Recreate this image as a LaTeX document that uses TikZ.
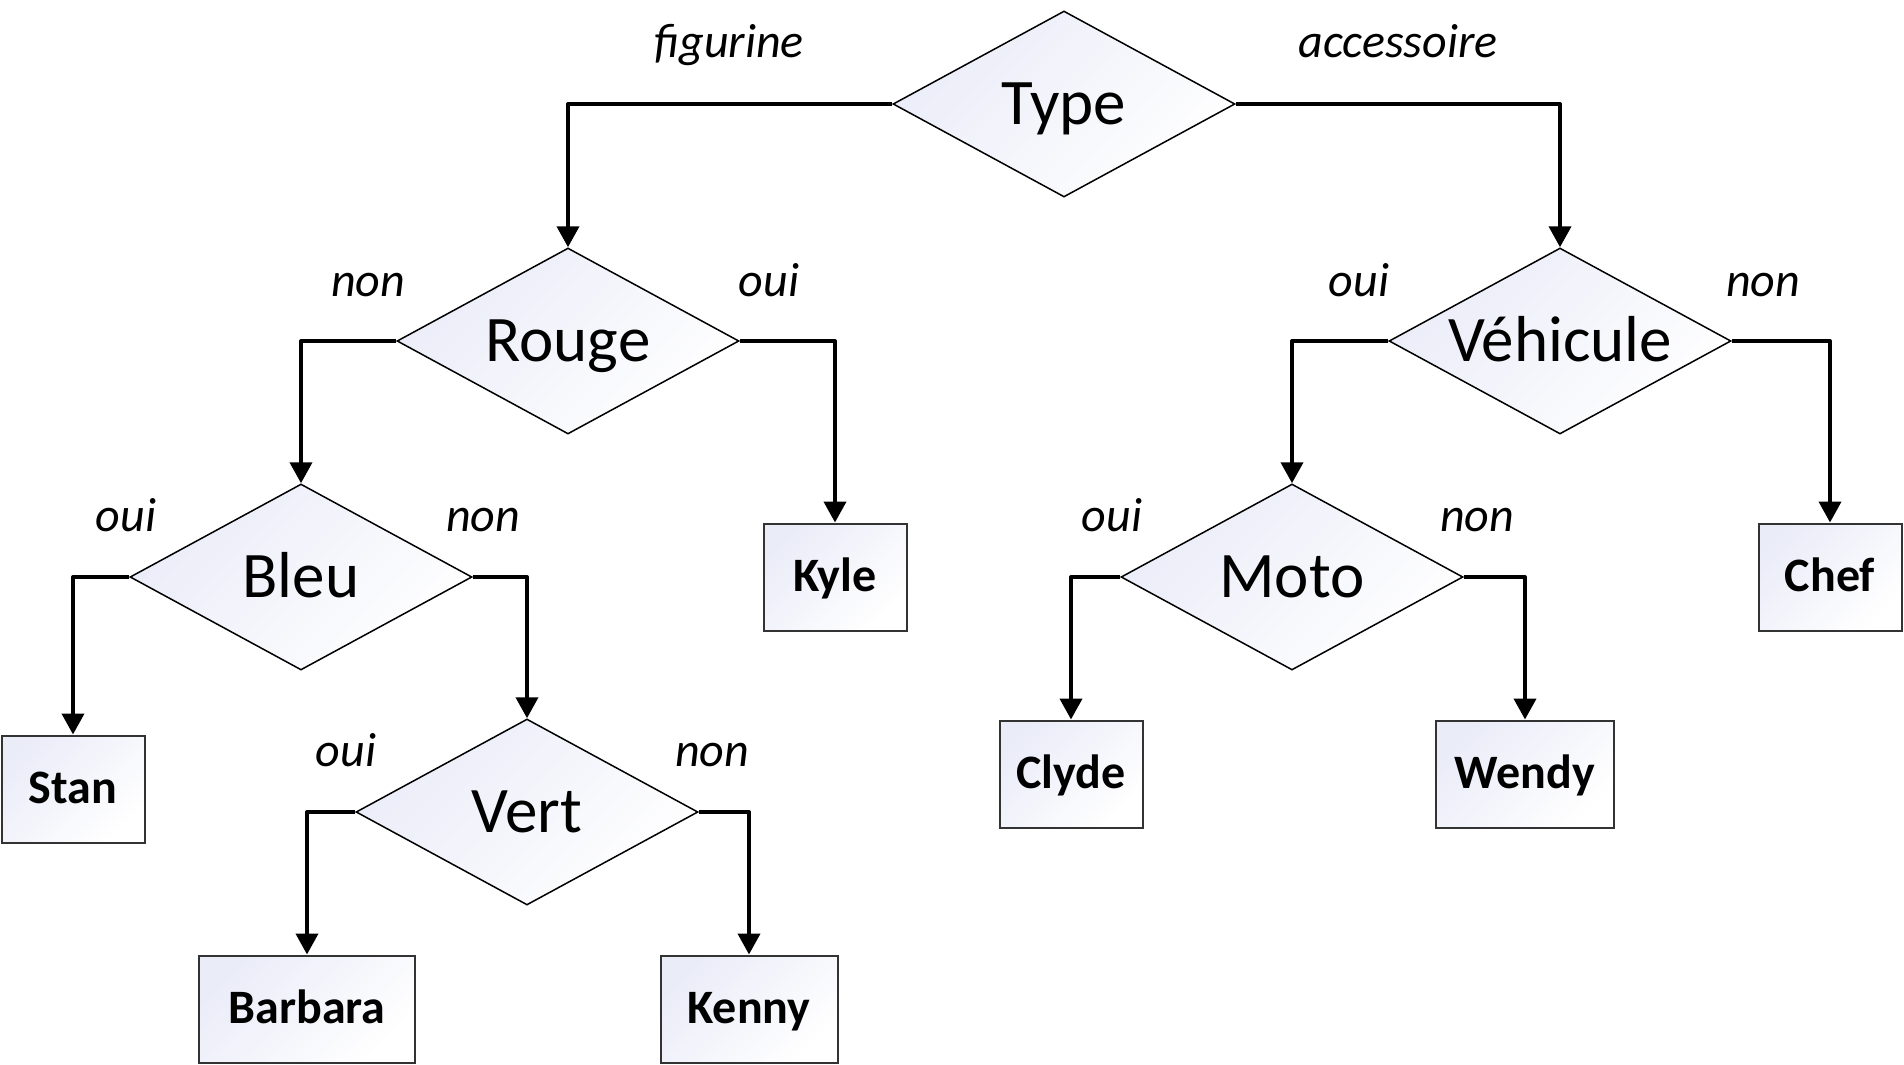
\documentclass[tikz,border=0pt]{standalone}
\usepackage{fontspec}
\setmainfont{Carlito}
\usetikzlibrary{shapes.geometric,arrows.meta}
\definecolor{paleblue}{RGB}{234,236,248}
\tikzset{
  question/.style={diamond, draw, line width=1.5pt, aspect=1.84, inner sep=0pt,
    minimum width=342pt, minimum height=186pt,
    top color=paleblue, bottom color=white, shading angle=45,
    text height=42pt, text depth=2pt,
    font=\fontsize{65}{78}\selectfont},
  leaf/.style={rectangle, draw=black!80, line width=2pt, inner sep=0pt,
    minimum width=143pt, minimum height=107pt,
    top color=paleblue, bottom color=white, shading angle=45,
    text height=31pt, text depth=2pt,
    font=\bfseries\fontsize{48}{58}\selectfont},
  branch/.style={line width=4pt, line join=round, -{Triangle[length=21pt,width=22pt]}},
  lbl/.style={anchor=base, font=\itshape\fontsize{48}{58}\selectfont}
}
\begin{document}
\begin{tikzpicture}[x=1pt,y=-1pt]
    \useasboundingbox (0,0) rectangle (1904,1065);
    % questions
    \node[question] (type) at (1064,104) {Type};
    \node[question] (rouge) at (568,341) {Rouge};
    \node[question] (vehicule) at (1560,341) {Véhicule};
    \node[question] (bleu) at (301,577) {Bleu};
    \node[question] (moto) at (1292,577) {Moto};
    \node[question] (vert) at (527,812) {Vert};
    % answers
    \node[leaf] (kyle) at (835,577) {Kyle};
    \node[leaf] (chef) at (1830,577) {Chef};
    \node[leaf] (stan) at (73,789) {Stan};
    \node[leaf] (clyde) at (1071,774) {Clyde};
    \node[leaf, minimum width=178pt] (wendy) at (1525,774) {Wendy};
    \node[leaf, minimum width=216pt] (barbara) at (307,1009) {Barbara};
    \node[leaf, minimum width=177pt] (kenny) at (749,1009) {Kenny};
    % branches
    \draw[branch] (type.west) -| (rouge.north);
    \draw[branch] (type.east) -| (vehicule.north);
    \draw[branch] (rouge.west) -| (bleu.north);
    \draw[branch] (rouge.east) -| (kyle.north);
    \draw[branch] (vehicule.west) -| (moto.north);
    \draw[branch] (vehicule.east) -| (chef.north);
    \draw[branch] (bleu.west) -| (stan.north);
    \draw[branch] (bleu.east) -| (vert.north);
    \draw[branch] (moto.west) -| (clyde.north);
    \draw[branch] (moto.east) -| (wendy.north);
    \draw[branch] (vert.west) -| (barbara.north);
    \draw[branch] (vert.east) -| (kenny.north);
    % labels
    \node[lbl] (lfigurine) at (729,58) {figurine};
    \node[lbl] (laccessoire) at (1398,58) {accessoire};
    \node[lbl] (lrougenon) at (368,296) {non};
    \node[lbl] (lrougeoui) at (769,296) {oui};
    \node[lbl] (lvehiculeoui) at (1359,296) {oui};
    \node[lbl] (lvehiculenon) at (1763,296) {non};
    \node[lbl] (lbleuoui) at (126,531) {oui};
    \node[lbl] (lbleunon) at (483,531) {non};
    \node[lbl] (lmotooui) at (1112,531) {oui};
    \node[lbl] (lmotonon) at (1477,531) {non};
    \node[lbl] (lvertoui) at (346,766) {oui};
    \node[lbl] (lvertnon) at (712,766) {non};
\end{tikzpicture}
\end{document}
